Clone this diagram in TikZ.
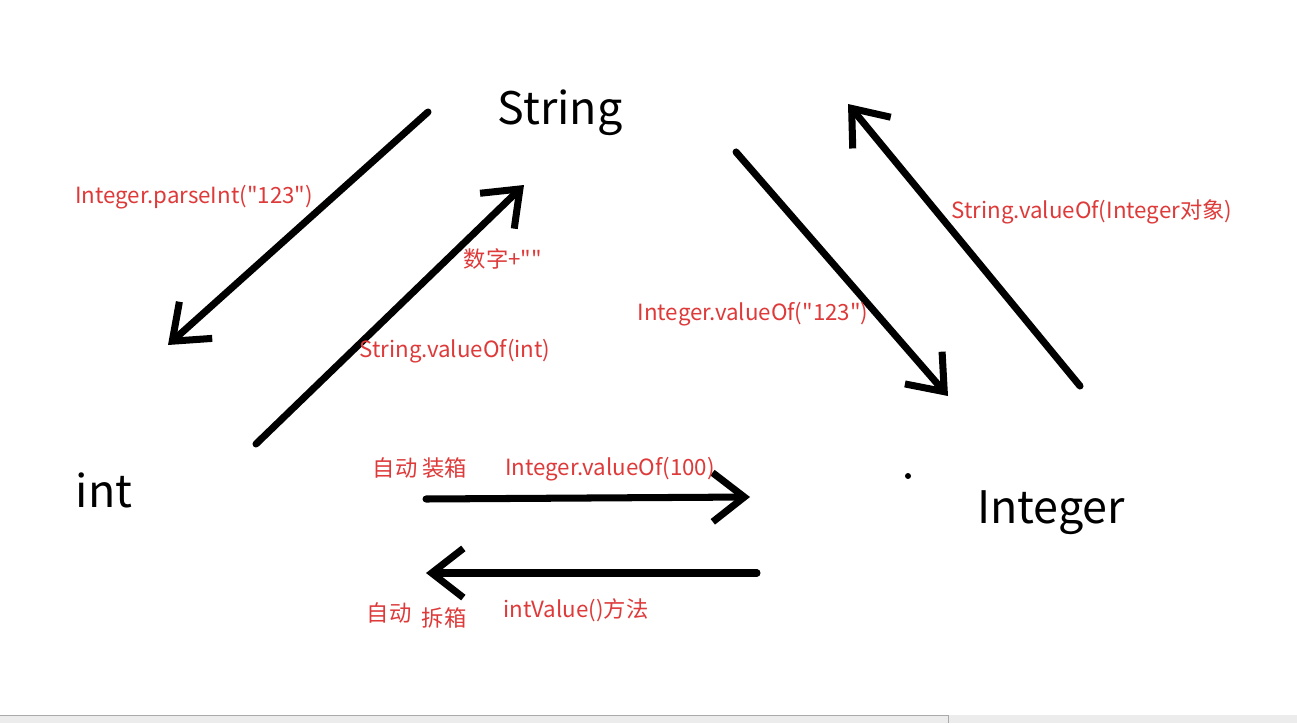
\documentclass[tikz,border=0pt]{standalone}
\usepackage{fontspec}
\newfontfamily\yahei{Noto Sans CJK SC}
\usepackage{tikz}
\usetikzlibrary{arrows.meta}
\definecolor{convRed}{RGB}{222,58,58}
\definecolor{barGray}{RGB}{236,236,236}
\definecolor{barEdge}{RGB}{170,170,170}

\begin{document}
\begin{tikzpicture}[x=0.02cm, y=-0.02cm,
  typelabel/.style={font=\yahei\fontsize{25.5}{30}\selectfont, text=black, inner sep=0pt},
  methodlabel/.style={font=\yahei\fontsize{12.7}{15}\selectfont, text=convRed, inner sep=0pt},
  penarr/.style={-{Straight Barb[length=18pt, width=28pt]}, line width=4pt,
                 line cap=round, line join=round, black}
]
\useasboundingbox (0,0) rectangle (1297,723);
\fill[white] (0,0) rectangle (1297,723);
%% Type names
\node[typelabel] (STR) at (560,113) {String};
\node[typelabel] (INT) at (104,490) {int};
\node[typelabel] (ITG) at (1051,513) {Integer};
\fill (908,476) circle (3);
%% Arrow end points
\coordinate (a1s) at (428,112);  \coordinate (a1e) at (168,345);
\coordinate (a2s) at (256,444);  \coordinate (a2e) at (524,185);
\coordinate (a3s) at (736,152);  \coordinate (a3e) at (948,396);
\coordinate (a4s) at (1080,386); \coordinate (a4e) at (848,104);
\coordinate (a5s) at (426,499);  \coordinate (a5e) at (750,497);
\coordinate (a6s) at (757,573);  \coordinate (a6e) at (426,573);
\draw[penarr] (a1s) -- (a1e);
\draw[penarr] (a2s) -- (a2e);
\draw[penarr] (a3s) -- (a3e);
\draw[penarr] (a4s) -- (a4e);
\draw[penarr] (a5s) -- (a5e);
\draw[penarr] (a6s) -- (a6e);
%% Conversion labels
\node[methodlabel] (parse)  at (194,197) {Integer.parseInt("123")};
\node[methodlabel] (concat) at (503,259) {数字+""};
\node[methodlabel] (svint)  at (455,351) {String.valueOf(int)};
\node[methodlabel] (ivstr)  at (753,314) {Integer.valueOf("123")};
\node[methodlabel] (svobj)  at (1092,212) {String.valueOf(Integer对象)};
\node[methodlabel] (boxA)   at (420,468) {自动\ 装箱};
\node[methodlabel] (iv100)  at (610,469) {Integer.valueOf(100)};
\node[methodlabel] (unboxA) at (389,613) {自动};
\node[methodlabel] (unboxB) at (444,618) {拆箱};
\node[methodlabel] (intval) at (576,610) {intValue()方法};
%% Scroll bar
\fill[barGray] (0,715) rectangle (1297,723);
\draw[barEdge] (0,715) -- (948,715) -- (948,723);
\end{tikzpicture}
\end{document}
